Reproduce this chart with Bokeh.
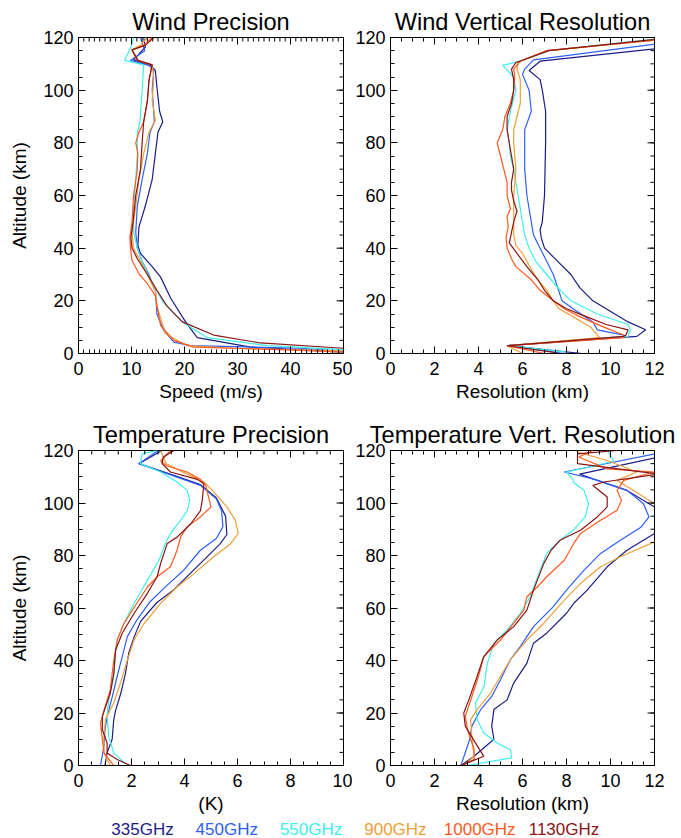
import numpy as np
from bokeh.plotting import figure
from bokeh.layouts import column, row
from bokeh.models import FixedTicker, Range1d, ColumnDataSource
from bokeh.core.properties import value
from bokeh.embed import file_html
from bokeh.resources import INLINE

FONT = "Liberation Sans"
FREQS = ["335GHz", "450GHz", "550GHz", "900GHz", "1000GHz", "1130GHz"]
COLORS = ["#1c1c86", "#2d5ff7", "#3ff0ea", "#eea038", "#ff5a1e", "#8c1414"]

ALT_TICKS = [0, 20, 40, 60, 80, 100, 120]
SPEED_TICKS = [0, 10, 20, 30, 40, 50]
RES_TICKS = [0, 2, 4, 6, 8, 10, 12]
K_TICKS = [0, 2, 4, 6, 8, 10]

# ---------------- Wind Precision (speed m/s vs altitude km) ----------------
wp_335 = ([120, 116.3, 111.5, 109.4, 107.5, 101, 92, 88, 84, 76, 66, 56, 48, 41, 38, 33, 29, 21, 12, 6, 2.4, 0.5, 0],
          [12.3, 12.6, 10.4, 13.6, 14.5, 14.8, 15.3, 15.9, 15.0, 14.5, 13.9, 12.6, 11.4, 11.2, 11.7, 13.9, 15.5, 17.4, 20.2, 22.4, 32.5, 50, 52])
wp_450 = ([120, 115, 111.3, 109.4, 107.5, 100, 92, 88, 84, 76, 66, 56, 46, 40, 35, 30, 25, 24, 15, 8.7, 4.3, 3, 2, 0.8, 0],
          [11.7, 12.5, 9.8, 13.3, 14.2, 13.9, 14.2, 14.3, 13.5, 13.0, 12.0, 11.1, 10.8, 11.1, 12.0, 13.3, 14.2, 14.5, 14.8, 16.1, 18.0, 21.1, 42, 50, 52])
wp_550 = ([120, 117, 111.3, 109.6, 100, 88, 84, 76, 66, 56, 46, 40, 35, 28, 20, 12, 6, 3, 1.5, 0],
          [10.4, 10.0, 8.7, 12.3, 12.0, 11.6, 11.1, 11.1, 10.8, 10.4, 10.4, 11.1, 12.0, 13.6, 15.8, 19.6, 24.3, 35.6, 50, 55])
wp_900 = ([120, 117, 115.3, 111.3, 109.6, 105, 96, 88.5, 84, 76, 66, 56, 46, 40, 35, 30, 26, 24, 18, 7.5, 5, 3, 2, 1, 0],
          [13.0, 11.7, 10.1, 11.1, 13.9, 14.2, 13.9, 14.5, 13.3, 12.3, 11.4, 10.8, 10.1, 10.4, 11.7, 13.0, 13.9, 14.5, 14.8, 16.4, 18.6, 20.5, 29, 50, 52])
wp_1000 = ([120, 117, 115.3, 111.3, 109.6, 103.7, 96, 88, 84, 80, 76, 70, 60, 50, 44, 40, 35.3, 30, 26.5, 22, 16, 10.6, 5, 2.4, 1.2, 0.5, 0],
           [13.9, 12.3, 10.1, 11.2, 13.9, 13.3, 13.0, 12.3, 11.4, 10.8, 11.2, 11.1, 10.4, 10.1, 9.7, 9.8, 10.1, 11.5, 13.0, 14.5, 15.0, 15.5, 18.0, 21.8, 42, 50, 52])
wp_1130 = ([120, 117, 115.3, 111.3, 109.6, 103.7, 96, 88, 80, 70, 60, 50, 44, 40, 36, 30, 24, 18, 12, 7, 4, 2, 0],
           [14.2, 12.6, 10.1, 11.2, 13.9, 13.3, 13.0, 12.3, 12.0, 11.7, 10.8, 10.3, 9.9, 10.1, 11.1, 13.0, 14.8, 16.7, 19.6, 25.5, 34.3, 50, 55])

# ---------------- Wind Vertical Resolution (km vs altitude km) ----------------
wvr_335 = ([116.2, 115.7, 111, 107.5, 104, 100, 92, 80, 60, 50, 47, 44, 40, 35, 30, 25, 20, 17, 12, 9, 6.5, 3, 0],
           [12.3, 12.0, 6.8, 6.3, 6.8, 6.9, 7.05, 7.05, 7.0, 6.9, 6.8, 6.85, 7.0, 7.6, 8.2, 8.6, 9.2, 9.8, 10.8, 11.6, 11.2, 5.3, 8.7])
wvr_450 = ([117.8, 111.5, 108, 106, 100, 92, 85, 80, 70, 60, 50, 45, 40, 35, 30, 25, 20, 17, 12, 9, 7, 6.5, 3, 0],
           [12.3, 6.5, 6.1, 6.0, 6.3, 6.4, 6.1, 6.1, 6.1, 6.2, 6.4, 6.5, 6.8, 7.1, 7.4, 7.6, 7.8, 8.3, 9.2, 9.4, 10.6, 10.7, 5.3, 7.9])
wvr_550 = ([119.6, 115, 111, 109.4, 105, 100, 92, 85, 80, 75, 70, 60, 50, 45, 40, 35, 30, 25, 20, 15, 11, 9, 6.5, 3, 0.5],
           [12.3, 7.2, 5.9, 5.1, 5.6, 5.7, 5.45, 5.3, 5.4, 5.45, 5.6, 5.8, 6.0, 6.1, 6.3, 6.6, 7.1, 7.6, 8.2, 9.4, 10.8, 10.9, 10.8, 5.3, 8.0])
wvr_900 = ([119.2, 115, 110.6, 108, 104, 100, 95, 90, 85, 80, 75, 70, 60, 50, 45, 41, 38, 32, 28, 24, 20, 17, 14, 10, 6, 3, 0],
           [12.3, 7.1, 5.8, 5.75, 5.9, 5.9, 5.9, 5.75, 5.6, 5.6, 5.65, 5.7, 5.6, 5.6, 5.6, 5.7, 6.0, 6.4, 6.7, 7.1, 7.4, 7.65, 8.3, 9.1, 9.5, 5.3, 6.0])
wvr_1000 = ([119.2, 115, 111, 108, 105, 100, 95, 90, 85, 80, 75, 70, 65, 60, 55, 52, 48, 44, 40, 36, 33, 28, 24, 20, 17, 14, 10, 7, 6, 3, 0],
            [12.3, 7.1, 5.9, 5.6, 5.65, 5.6, 5.45, 5.2, 5.1, 4.85, 5.0, 5.15, 5.3, 5.3, 5.45, 5.3, 5.35, 5.25, 5.3, 5.5, 5.7, 6.4, 6.8, 7.4, 7.9, 8.6, 9.7, 10.6, 10.6, 5.3, 7.0])
wvr_1130 = ([119.5, 115, 110.5, 108, 104, 100, 95, 90, 85, 80, 75, 70, 65, 62, 58, 54, 50, 46, 42, 38, 33, 28, 24, 20, 17, 14, 11, 9, 7, 6.5, 3, 0.3],
            [12.3, 7.2, 5.7, 5.5, 5.6, 5.6, 5.5, 5.3, 5.3, 5.4, 5.5, 5.6, 5.5, 5.5, 5.6, 5.75, 5.6, 5.5, 5.4, 5.75, 6.2, 6.7, 7.0, 7.4, 8.0, 8.9, 9.8, 10.8, 10.7, 10.6, 5.3, 7.5])

# ---------------- Temperature Precision (K vs altitude km) ----------------
tp_335 = ([120, 115, 110.5, 107, 102, 95, 88, 84.5, 79.5, 73, 67, 62, 55, 49, 43, 35, 27.6, 21, 17.5, 10, 4.8, 0],
          [3.15, 2.28, 3.6, 4.6, 5.2, 5.55, 5.6, 5.35, 4.85, 4.2, 3.6, 2.95, 2.35, 2.1, 1.9, 1.77, 1.6, 1.4, 1.33, 1.27, 1.08, 1.0])
tp_450 = ([120, 115, 106.7, 101.6, 97, 91, 86.5, 82, 74.4, 68.7, 62.4, 55.4, 49, 41.5, 34, 26, 18.7, 13.7, 7.3, 0],
          [3.0, 2.28, 4.6, 5.2, 5.4, 5.45, 5.2, 4.6, 3.97, 3.35, 2.7, 2.2, 1.84, 1.65, 1.46, 1.27, 1.08, 1.0, 0.96, 0.83])
tp_550 = ([120, 118.7, 115, 111.8, 108, 104.8, 101, 97, 93.4, 88.4, 84.6, 78, 70.6, 61.8, 54, 47.8, 42.8, 34, 25, 18.7, 11, 4.8, 0],
          [2.97, 2.4, 2.34, 3.1, 3.72, 4.1, 4.2, 4.1, 3.85, 3.47, 3.28, 3.03, 2.6, 2.1, 1.71, 1.46, 1.4, 1.33, 1.14, 1.08, 1.14, 1.33, 1.84])
tp_900 = ([120, 115, 111, 108, 105.4, 98.5, 93.4, 88.4, 84.5, 79.5, 73, 68, 61.8, 54, 48, 40, 31.4, 23.8, 17.5, 11, 4.8, 0],
          [3.1, 3.3, 4.1, 4.73, 5.0, 5.6, 5.92, 6.03, 5.74, 5.1, 4.35, 3.72, 3.1, 2.47, 2.1, 1.84, 1.58, 1.33, 1.02, 0.96, 0.96, 1.2])
tp_1000 = ([120, 116, 114, 111.8, 109, 106.7, 98.5, 94.7, 90.9, 87, 82, 75.7, 71.9, 68, 61.8, 54, 47.8, 40, 28.9, 21, 16, 9.9, 4.8, 0],
           [3.47, 3.1, 3.35, 4.1, 4.6, 4.8, 5.0, 4.6, 4.1, 3.85, 3.72, 3.47, 2.97, 2.6, 2.2, 1.71, 1.46, 1.33, 1.2, 0.96, 0.83, 0.9, 0.96, 1.33])
tp_1130 = ([120, 117.5, 115, 111.8, 109, 107.3, 101, 97, 92, 87, 84.6, 77, 72, 65.6, 58, 50.4, 44, 35, 27.6, 18.7, 13.7, 8.6, 4.8, 2.3, 0],
           [3.6, 3.2, 3.15, 3.47, 4.48, 4.73, 4.67, 4.6, 4.23, 3.72, 3.35, 3.1, 2.97, 2.6, 2.1, 1.65, 1.4, 1.33, 1.2, 0.9, 0.9, 1.08, 1.08, 1.46, 1.96])

# ---------------- Temperature Vertical Resolution (km vs altitude km) ----------------
tvr_335 = ([117.5, 111, 109.2, 104.8, 98.5, 93, 88.4, 82, 75.7, 66.8, 61.8, 58, 50.4, 46.6, 39, 31.4, 25, 21.3, 15, 10, 3.5, 0],
           [12.2, 8.6, 9.2, 10.75, 12.0, 12.6, 12.0, 10.75, 9.85, 8.94, 8.33, 8.0, 7.1, 6.5, 6.2, 5.6, 5.3, 4.7, 4.6, 4.7, 3.8, 3.2])
tvr_450 = ([119, 111.8, 109.2, 104.8, 99.7, 94.7, 90.9, 85.8, 80.8, 74.4, 66.8, 60.5, 52.9, 45.3, 40.3, 32.7, 26.3, 21.3, 15, 9.9, 0],
           [12.2, 7.9, 9.2, 10.75, 11.5, 11.75, 11.4, 10.45, 9.55, 8.8, 8.0, 7.4, 6.5, 5.9, 5.45, 5.0, 4.6, 4.1, 3.7, 3.6, 3.2])
tvr_550 = ([120, 116, 114, 111.8, 109, 108, 104.8, 99.7, 94.7, 89.6, 85.8, 80.8, 74.4, 64.3, 58, 51.6, 46.6, 39, 30, 23.8, 17.5, 12.4, 8.6, 6, 2.9, 0],
           [9.85, 10.15, 9.2, 8.0, 8.3, 8.3, 8.8, 9.0, 8.85, 8.3, 7.7, 7.1, 6.8, 6.35, 5.9, 5.3, 4.7, 4.4, 4.25, 3.86, 3.94, 4.24, 4.85, 5.45, 5.5, 3.5])
tvr_900 = ([119.4, 116.2, 111.8, 108.6, 104.8, 99.7, 92, 85.2, 79.5, 75.7, 69.4, 63, 54.2, 47.8, 40.3, 34, 27.6, 21.3, 17.5, 11, 3.5, 0],
           [8.5, 9.85, 11.2, 10.3, 11.05, 12.0, 12.8, 12.0, 10.45, 9.55, 8.64, 7.9, 6.97, 6.2, 5.45, 5.0, 4.55, 3.94, 3.64, 3.7, 3.8, 3.33])
tvr_1000 = ([120, 117.5, 113, 111.8, 108.6, 104.8, 101, 97.2, 93.4, 88.4, 84.6, 78.2, 71.9, 68, 64.3, 59.2, 54.2, 47.8, 41.5, 34, 26.3, 18.7, 13.7, 6, 2.3, 0],
            [9.2, 8.56, 9.85, 12.0, 10.6, 10.3, 10.5, 10.3, 9.55, 8.64, 8.33, 7.9, 7.1, 6.67, 6.2, 6.06, 5.6, 5.0, 4.24, 4.0, 3.7, 3.4, 3.5, 3.8, 3.8, 3.2])
tvr_1130 = ([120, 118.7, 115, 111, 108, 106.7, 102.3, 98.5, 94.7, 89.6, 85.8, 82, 77, 66.8, 59.2, 52.9, 47.8, 41.5, 34, 25, 20, 15, 8.6, 3.5, 1, 0],
            [10.3, 8.5, 8.5, 12.2, 9.7, 9.2, 9.85, 9.85, 9.4, 8.64, 7.7, 7.3, 6.97, 6.5, 6.2, 5.6, 4.85, 4.24, 3.94, 3.56, 3.33, 3.4, 3.86, 4.24, 3.5, 3.2])

WIND_PREC = [wp_335, wp_450, wp_550, wp_900, wp_1000, wp_1130]
WIND_RES = [wvr_335, wvr_450, wvr_550, wvr_900, wvr_1000, wvr_1130]
TEMP_PREC = [tp_335, tp_450, tp_550, tp_900, tp_1000, tp_1130]
TEMP_RES = [tvr_335, tvr_450, tvr_550, tvr_900, tvr_1000, tvr_1130]

MAJOR_IN, MINOR_IN = 7, 4


def style_axis(ax, ticks, minor, label, label_standoff, tick_standoff):
    ax.ticker = FixedTicker(ticks=ticks, minor_ticks=minor)
    ax.major_tick_in = MAJOR_IN
    ax.major_tick_out = 0
    ax.minor_tick_in = MINOR_IN
    ax.minor_tick_out = 0
    ax.axis_line_color = "black"
    ax.major_tick_line_color = "black"
    ax.minor_tick_line_color = "black"
    ax.major_label_text_font = FONT
    ax.major_label_text_font_size = "18px"
    ax.major_label_text_color = "black"
    ax.major_label_standoff = tick_standoff
    ax.axis_label = label
    ax.axis_label_text_font = FONT
    ax.axis_label_text_font_style = "normal"
    ax.axis_label_text_font_size = "19px"
    ax.axis_label_text_color = "black"
    ax.axis_label_standoff = label_standoff


def mirror_ticks(p, xticks, xminor, xend):
    # ticks on the top and right frame edges (outer half is clipped by the frame)
    n_alt_minor = [t for t in np.arange(0, 120.001, 5)]
    p.scatter(x=xticks, y=[120] * len(xticks), marker="dash", angle=np.pi / 2,
              size=2 * MAJOR_IN, line_color="black", line_width=1)
    p.scatter(x=xminor, y=[120] * len(xminor), marker="dash", angle=np.pi / 2,
              size=2 * MINOR_IN, line_color="black", line_width=1)
    p.scatter(x=[xend] * len(ALT_TICKS), y=ALT_TICKS, marker="dash",
              size=2 * MAJOR_IN, line_color="black", line_width=1)
    p.scatter(x=[xend] * len(n_alt_minor), y=n_alt_minor, marker="dash",
              size=2 * MINOR_IN, line_color="black", line_width=1)


def make_panel(title, series, xend, xticks, xminor_step, xlabel, ylabel,
               width, height, left, right, top, bottom):
    p = figure(width=width, height=height, x_range=Range1d(0, xend), y_range=Range1d(0, 120),
               output_backend="svg", toolbar_location=None,
               min_border_left=left, min_border_right=right,
               min_border_top=top, min_border_bottom=bottom)
    p.grid.visible = False
    p.outline_line_color = "black"
    p.background_fill_color = "white"
    p.border_fill_color = "white"
    p.title.text = title
    p.title.align = "center"
    p.title.text_font = FONT
    p.title.text_font_size = "23.6px"
    p.title.text_font_style = "normal"
    p.title.text_color = "black"
    p.title.standoff = 6

    xminor = [float(v) for v in np.arange(0, xend + 1e-9, xminor_step)]
    yminor = [float(v) for v in np.arange(0, 120 + 1e-9, 5)]

    style_axis(p.xaxis[0], xticks, xminor, xlabel, 3, 8)
    style_axis(p.yaxis[0], ALT_TICKS, yminor, ylabel, 10, 5)

    for (alt, val), color in zip(series, COLORS):
        p.line(x=val, y=alt, line_color=color, line_width=1.2)
    mirror_ticks(p, xticks, xminor, xend)
    return p


W_LEFT, W_RIGHT = 352, 329
H_TOP, H_BOT, H_LEG = 413, 403, 22

p1 = make_panel("Wind Precision", WIND_PREC, 50, SPEED_TICKS, 1, "Speed (m/s)", "Altitude (km)",
                W_LEFT, H_TOP, 78, 9, 37, 60)
p2 = make_panel("Wind Vertical Resolution", WIND_RES, 12, RES_TICKS, 0.5, "Resolution (km)", None,
                W_RIGHT, H_TOP, 38, 27, 37, 60)
p3 = make_panel("Temperature Precision", TEMP_PREC, 10, K_TICKS, 0.5, "(K)", "Altitude (km)",
                W_LEFT, H_BOT, 78, 9, 37, 50)
p4 = make_panel("Temperature Vert. Resolution", TEMP_RES, 12, RES_TICKS, 0.5, "Resolution (km)", None,
                W_RIGHT, H_BOT, 38, 27, 37, 50)

leg = figure(width=W_LEFT + W_RIGHT, height=H_LEG, x_range=Range1d(0, W_LEFT + W_RIGHT),
             y_range=Range1d(0, H_LEG), output_backend="svg", toolbar_location=None,
             x_axis_type=None, y_axis_type=None,
             min_border=0, min_border_left=0, min_border_right=0, min_border_top=0, min_border_bottom=0)
leg.grid.visible = False
leg.outline_line_color = None
leg_src = ColumnDataSource(dict(x=[142 + i * 84.3 for i in range(len(FREQS))], y=[9.5] * len(FREQS),
                                text=FREQS, color=COLORS))
leg.text(x="x", y="y", text="text", text_color="color", source=leg_src, text_align="center",
         text_baseline="middle", text_font=value(FONT), text_font_size="17px")

layout = column(row(p1, p2), row(p3, p4), leg)
open("out.html", "w").write(file_html(layout, INLINE))
